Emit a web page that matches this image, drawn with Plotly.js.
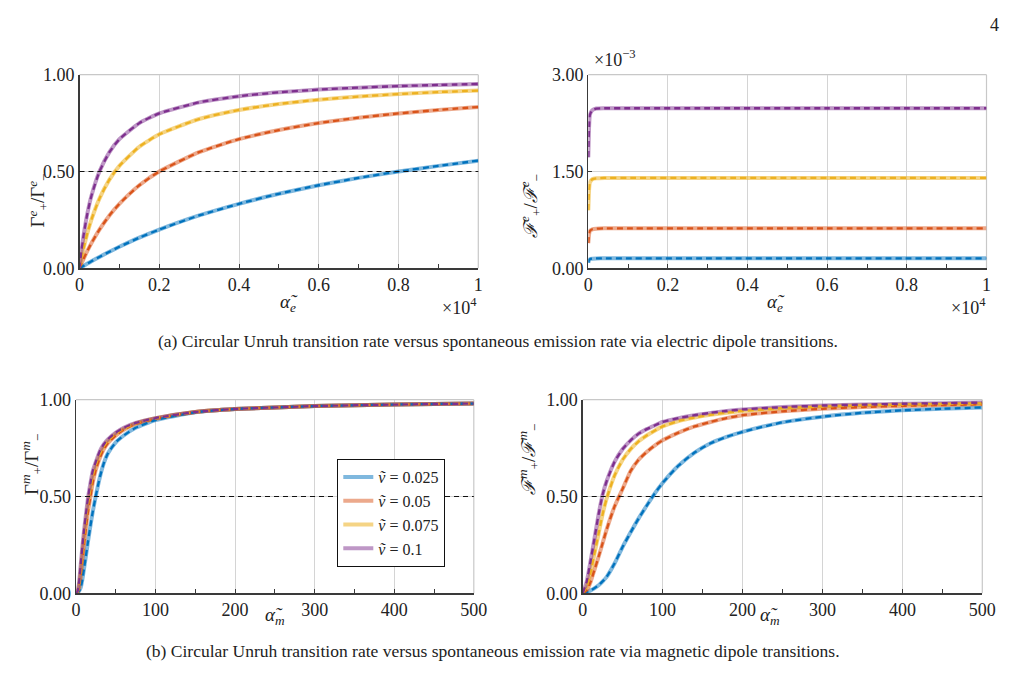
<!DOCTYPE html>
<html><head><meta charset="utf-8">
<script src="https://cdn.plot.ly/plotly-3.0.1.min.js"></script>
<style>html,body{margin:0;padding:0;background:#fff;}</style>
</head><body>
<div id="chart" style="width:1015px;height:682px;"></div>
<script>
// ---------- data ----------
const seriesNames = ['<i>ṽ</i> = 0.025', '<i>ṽ</i> = 0.05', '<i>ṽ</i> = 0.075', '<i>ṽ</i> = 0.1'];

// (a) left: Gamma^e ratio, x in units of 1e4
const alphaE_gamma = [0, 0.005, 0.01, 0.02, 0.03, 0.05, 0.075, 0.1, 0.15, 0.2, 0.3, 0.4, 0.5, 0.6, 0.7, 0.8, 0.9, 1.0];
const gammaE_v025 = [0,0.0062,0.0123,0.0244,0.0361,0.0588,0.0857,0.111,0.158,0.2,0.273,0.333,0.385,0.429,0.467,0.5,0.529,0.556];
const gammaE_v050 = [0,0.0244,0.0476,0.0909,0.130,0.2,0.273,0.333,0.429,0.5,0.6,0.667,0.714,0.75,0.778,0.8,0.818,0.833];
const gammaE_v075 = [0,0.0532,0.101,0.184,0.252,0.36,0.458,0.529,0.628,0.692,0.771,0.818,0.849,0.871,0.887,0.9,0.910,0.918];
const gammaE_v100 = [0,0.0909,0.167,0.286,0.375,0.5,0.6,0.667,0.75,0.8,0.857,0.889,0.909,0.923,0.933,0.941,0.947,0.952];

// (a) right: F^e ratio, y in units of 1e-3, x in units of 1e4
const alphaE_F = [0, 0.002, 0.004, 0.01, 0.02, 0.04, 0.1, 0.3, 0.6, 1.0];
const FE_v025 = [0.087,0.128,0.142,0.149,0.153,0.155,0.155,0.155,0.155,0.155];
const FE_v050 = [0.39,0.53,0.58,0.605,0.614,0.619,0.62,0.62,0.62,0.62];
const FE_v075 = [0.90,1.22,1.33,1.38,1.395,1.40,1.40,1.40,1.40,1.40];
const FE_v100 = [1.72,2.20,2.38,2.45,2.475,2.48,2.48,2.48,2.48,2.48];

// (b) left: Gamma^m ratio
const alphaM_gamma = [0,2,4,6,8,10,12,15,18,21,25,30,35,40,50,60,75,100,150,200,300,400,500];
const gammaM_v025 = [0,0.003,0.012,0.03,0.07,0.125,0.18,0.265,0.345,0.42,0.505,0.6,0.672,0.722,0.78,0.815,0.855,0.895,0.935,0.952,0.967,0.975,0.98];
const gammaM_v050 = [0,0.004,0.03,0.09,0.17,0.25,0.32,0.42,0.495,0.57,0.64,0.70,0.745,0.775,0.815,0.845,0.875,0.902,0.936,0.952,0.967,0.975,0.98];
const gammaM_v075 = [0,0.007,0.045,0.12,0.21,0.29,0.36,0.46,0.535,0.605,0.665,0.72,0.76,0.787,0.825,0.85,0.878,0.904,0.937,0.952,0.967,0.975,0.98];
const gammaM_v100 = [0,0.01,0.06,0.15,0.24,0.32,0.39,0.49,0.565,0.63,0.68,0.735,0.77,0.795,0.83,0.855,0.88,0.905,0.937,0.952,0.967,0.975,0.98];

// (b) right: F^m ratio
const alphaM_F = [0,5,10,15,20,25,30,40,50,60,70,80,90,100,120,140,160,180,200,250,300,350,400,450,500];
const FM_v025 = [0,0.006,0.015,0.027,0.042,0.062,0.085,0.155,0.24,0.315,0.387,0.452,0.515,0.57,0.66,0.727,0.775,0.808,0.834,0.883,0.912,0.932,0.945,0.953,0.96];
const FM_v050 = [0,0.015,0.06,0.125,0.19,0.26,0.33,0.45,0.54,0.632,0.69,0.73,0.763,0.79,0.83,0.862,0.885,0.905,0.92,0.94,0.953,0.962,0.968,0.972,0.976];
const FM_v075 = [0,0.035,0.11,0.21,0.31,0.41,0.49,0.61,0.69,0.745,0.785,0.815,0.84,0.862,0.89,0.908,0.922,0.933,0.942,0.956,0.965,0.971,0.975,0.978,0.981];
const FM_v100 = [0,0.06,0.17,0.29,0.41,0.51,0.58,0.68,0.745,0.79,0.825,0.848,0.867,0.885,0.905,0.92,0.932,0.942,0.95,0.962,0.97,0.975,0.979,0.982,0.985];

const halfLevel = 0.5;

// ---------- styles ----------
const darkColors = ['#0072BD', '#D95319', '#EDB120', '#7E2F8E'];
const lightColors = ['rgba(0,114,189,0.5)', 'rgba(217,83,25,0.5)', 'rgba(237,177,32,0.55)', 'rgba(126,47,142,0.5)'];

const traces = [];
function addPanel(xs, ysList, xa, ya, legend) {
  ysList.forEach((ys, i) => {
    traces.push({x: xs, y: ys, xaxis: xa, yaxis: ya, type: 'scatter', mode: 'lines',
      name: seriesNames[i], showlegend: legend, legendgroup: 'g' + i,
      line: {color: lightColors[i], width: 4, shape: 'spline', smoothing: 0.5}, hoverinfo: 'skip'});
  });
  ysList.forEach((ys, i) => {
    traces.push({x: xs, y: ys, xaxis: xa, yaxis: ya, type: 'scatter', mode: 'lines',
      showlegend: false, legendgroup: 'g' + i,
      line: {color: darkColors[i], width: 2.3, dash: '6px,4px', shape: 'spline', smoothing: 0.5}, hoverinfo: 'skip'});
  });
}
addPanel(alphaE_gamma, [gammaE_v025, gammaE_v050, gammaE_v075, gammaE_v100], 'x', 'y', false);
addPanel(alphaE_F, [FE_v025, FE_v050, FE_v075, FE_v100], 'x2', 'y2', false);
addPanel(alphaM_gamma, [gammaM_v025, gammaM_v050, gammaM_v075, gammaM_v100], 'x3', 'y3', true);
addPanel(alphaM_F, [FM_v025, FM_v050, FM_v075, FM_v100], 'x4', 'y4', false);

const W = 1015, H = 682;
const px = v => v / W, py = v => 1 - v / H;
const font = 'Liberation Serif';
const tickFont = () => ({family: font, size: 18, color: '#222'});

function xAxis(domain, range, dtick, minorDtick, fmt, anchor) {
  return {domain: domain, range: range, anchor: anchor, dtick: dtick, tick0: 0, tickformat: fmt,
    showline: true, linecolor: '#3a3a3a', linewidth: 1.3, ticks: 'inside', ticklen: 4, tickcolor: '#3a3a3a',
    minor: {dtick: minorDtick, ticks: 'inside', ticklen: 4, tickcolor: '#3a3a3a', showgrid: false},
    showgrid: true, gridcolor: '#d4d4d4', gridwidth: 1, zeroline: false, tickfont: tickFont(), fixedrange: true};
}
function yAxis(domain, range, dtick, anchor) {
  return {domain: domain, range: range, anchor: anchor, dtick: dtick, tick0: 0, tickformat: '.2f',
    showline: true, linecolor: '#3a3a3a', linewidth: 1.3, ticks: 'inside', ticklen: 4, tickcolor: '#3a3a3a',
    showgrid: true, gridcolor: '#d4d4d4', gridwidth: 1, zeroline: false, tickfont: tickFont(), fixedrange: true};
}

const dTop = [py(268.3), py(74.7)];
const dBot = [py(593.3), py(399.7)];

const layout = {
  width: W, height: H, margin: {l: 0, r: 0, t: 0, b: 0},
  paper_bgcolor: '#fff', plot_bgcolor: '#fff',
  font: {family: font, color: '#222'},
  xaxis: xAxis([px(79.5), px(478.3)], [0, 1], 0.2, 0.1, '~g', 'y'),
  yaxis: yAxis(dTop, [0, 1], 0.5, 'x'),
  xaxis2: xAxis([px(588.3), px(986.5)], [0, 1], 0.2, 0.1, '~g', 'y2'),
  yaxis2: yAxis(dTop, [0, 3], 1.5, 'x2'),
  xaxis3: xAxis([px(76), px(473.8)], [0, 500], 100, 50, 'd', 'y3'),
  yaxis3: yAxis(dBot, [0, 1], 0.5, 'x3'),
  xaxis4: xAxis([px(582.7), px(982.3)], [0, 500], 100, 50, 'd', 'y4'),
  yaxis4: yAxis(dBot, [0, 1], 0.5, 'x4'),
  showlegend: true,
  legend: {x: px(337.3), y: py(459), xanchor: 'left', yanchor: 'top', xref: 'paper', yref: 'paper',
    bgcolor: '#fff', bordercolor: '#111', borderwidth: 1, font: {family: font, size: 16, color: '#222'},
    tracegroupgap: 0, itemwidth: 30},
  shapes: [],
  annotations: []
};

// half-level dashed reference lines and light top/right frame
[['x','y'],['x3','y3'],['x4','y4']].forEach(([xa, ya]) => {
  layout.shapes.push({type: 'line', xref: xa + ' domain', yref: ya, x0: 0, x1: 1, y0: halfLevel, y1: halfLevel,
    line: {color: '#111', width: 1.2, dash: '5px,4px'}, layer: 'above'});
});
[['x','y'],['x2','y2'],['x3','y3'],['x4','y4']].forEach(([xa, ya]) => {
  layout.shapes.push({type: 'line', xref: xa + ' domain', yref: ya + ' domain', x0: 0, x1: 1, y0: 1, y1: 1,
    line: {color: '#c8c8c8', width: 1.2}, layer: 'below'});
  layout.shapes.push({type: 'line', xref: xa + ' domain', yref: ya + ' domain', x0: 1, x1: 1, y0: 0, y1: 1,
    line: {color: '#c8c8c8', width: 1.2}, layer: 'below'});
});

function ann(text, x, y, opts) {
  layout.annotations.push(Object.assign({text: text, x: px(x), y: py(y), xref: 'paper', yref: 'paper',
    showarrow: false, font: {family: font, size: 19, color: '#222'}}, opts || {}));
}
const aE = '<i>α̃</i><sub><i>e</i></sub>';
const aM = '<i>α̃</i><sub><i>m</i></sub>';
ann(aE, 278, 303);
ann(aE, 787, 303);
ann(aM, 263, 630);
ann(aM, 782, 630);
ann('×10<sup>4</sup>', 479, 306, {xanchor: 'right', font: {family: font, size: 18, color: '#222'}});
ann('×10<sup>4</sup>', 988, 306, {xanchor: 'right', font: {family: font, size: 18, color: '#222'}});
ann('×10<sup>−3</sup>', 592, 58, {xanchor: 'left', yanchor: 'middle', font: {family: font, size: 18, color: '#222'}});
ann('Γ<sup><i>e</i></sup><sub>+</sub>/Γ<sup><i>e</i></sup><sub>−</sub>', 22, 172, {textangle: -90});
ann('<i>ℱ</i><sup><i>e</i></sup><sub>+</sub>/<i>ℱ</i><sup><i>e</i></sup><sub>−</sub>', 530, 172, {textangle: -90});
ann('Γ<sup><i>m</i></sup><sub>+</sub>/Γ<sup><i>m</i></sup><sub>−</sub>', 16, 497, {textangle: -90});
ann('<i>ℱ</i><sup><i>m</i></sup><sub>+</sub>/<i>ℱ</i><sup><i>m</i></sup><sub>−</sub>', 528, 497, {textangle: -90});
ann('(a) Circular Unruh transition rate versus spontaneous emission rate via electric dipole transitions.', 498, 341,
  {font: {family: font, size: 17.5, color: '#222'}});
ann('(b) Circular Unruh transition rate versus spontaneous emission rate via magnetic dipole transitions.', 493, 663,
  {font: {family: font, size: 17.5, color: '#222'}});
ann('4', 1001, 13, {font: {family: font, size: 18, color: '#222'}});

Plotly.newPlot('chart', traces, layout, {staticPlot: true, displayModeBar: false});
</script>
</body></html>
